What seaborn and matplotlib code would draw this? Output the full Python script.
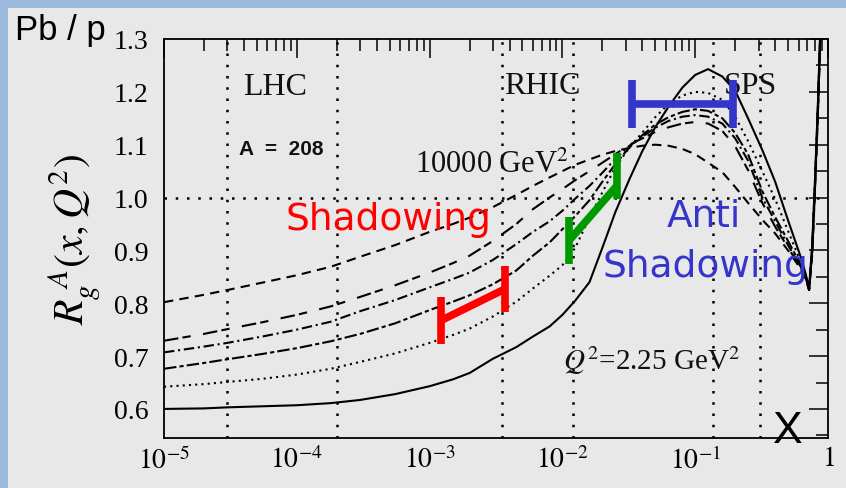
import numpy as np
import pandas as pd
import matplotlib
matplotlib.use("Agg")
import matplotlib.pyplot as plt
import seaborn as sns
from matplotlib.ticker import FixedLocator, LogLocator, FuncFormatter, NullFormatter
from matplotlib.patches import Rectangle

# ---------------------------------------------------------------------------
# Gluon nuclear modification R_g^A(x, Q^2) for Pb (A = 208)
# ---------------------------------------------------------------------------
x_vals = [1e-5, 2e-5, 3e-5, 5.5e-5, 1e-4, 1.8e-4, 3e-4, 5.5e-4, 1e-3, 1.5e-3,
          2e-3, 3e-3, 4.5e-3, 6e-3, 8e-3,
          0.01, 0.0125, 0.016, 0.02, 0.025, 0.032, 0.04, 0.05, 0.063, 0.08,
          0.1, 0.125, 0.16, 0.2, 0.25, 0.32, 0.4, 0.5, 0.63, 0.68,
          0.72, 0.76, 0.80, 0.84, 0.88]

r_q2_2p25 = [0.600, 0.601, 0.603, 0.605, 0.607, 0.611, 0.617, 0.628, 0.643, 0.656,
             0.668, 0.695, 0.717, 0.737, 0.756,
             0.778, 0.805, 0.840, 0.905, 0.972, 1.035, 1.088, 1.133, 1.172, 1.208,
             1.232, 1.243, 1.229, 1.202, 1.150, 1.090, 1.030, 0.957, 0.884, 0.855,
             0.827, 0.910, 1.040, 1.180, 1.340]
r_q2_b = [0.642, 0.647, 0.651, 0.657, 0.665, 0.676, 0.689, 0.705, 0.725, 0.740,
          0.752, 0.775, 0.803, 0.828, 0.852,
          0.872, 0.905, 0.962, 1.010, 1.057, 1.095, 1.123, 1.152, 1.177, 1.193,
          1.200, 1.198, 1.185, 1.153, 1.107, 1.050, 0.997, 0.937, 0.875, 0.852,
          0.826, 0.905, 1.035, 1.175, 1.335]
r_q2_c = [0.676, 0.687, 0.694, 0.704, 0.715, 0.728, 0.742, 0.762, 0.787, 0.803,
          0.815, 0.836, 0.862, 0.890, 0.915,
          0.940, 0.965, 0.995, 1.030, 1.063, 1.095, 1.118, 1.138, 1.152, 1.162,
          1.167, 1.164, 1.150, 1.122, 1.082, 1.012, 0.963, 0.918, 0.870, 0.850,
          0.826, 0.900, 1.030, 1.170, 1.330]
r_q2_d = [0.707, 0.718, 0.725, 0.737, 0.750, 0.765, 0.785, 0.806, 0.830, 0.846,
          0.858, 0.882, 0.912, 0.935, 0.955,
          0.975, 0.998, 1.022, 1.047, 1.073, 1.098, 1.115, 1.132, 1.145, 1.153,
          1.156, 1.153, 1.140, 1.112, 1.070, 1.000, 0.955, 0.910, 0.867, 0.848,
          0.825, 0.900, 1.030, 1.165, 1.330]
r_q2_e = [0.729, 0.742, 0.751, 0.764, 0.778, 0.794, 0.812, 0.834, 0.858, 0.876,
          0.890, 0.918, 0.950, 0.978, 1.000,
          1.016, 1.033, 1.050, 1.066, 1.082, 1.100, 1.112, 1.124, 1.133, 1.140,
          1.143, 1.140, 1.126, 1.097, 1.052, 0.990, 0.945, 0.905, 0.865, 0.847,
          0.825, 0.895, 1.025, 1.165, 1.325]
r_q2_10000 = [0.802, 0.816, 0.825, 0.839, 0.853, 0.869, 0.888, 0.910, 0.935, 0.950,
              0.962, 0.982, 1.005, 1.022, 1.038,
              1.050, 1.062, 1.072, 1.081, 1.088, 1.094, 1.098, 1.100, 1.098, 1.092,
              1.082, 1.066, 1.048, 1.020, 0.990, 0.958, 0.932, 0.900, 0.863, 0.845,
              0.825, 0.890, 1.020, 1.160, 1.320]

curves = [
    (r_q2_2p25, "-"),
    (r_q2_b, (0, (1, 2.0))),
    (r_q2_c, (0, (6, 1.5, 2, 1.5))),
    (r_q2_d, (0, (5, 1.8, 1, 1.8))),
    (r_q2_e, (0, (7, 2, 4, 6))),
    (r_q2_10000, (0, (4.5, 3))),
]

# experimental x ranges (boundaries of the kinematic regions)
lhc_range = [3e-5, 2e-4]
rhic_range = [3.5e-3, 1.2e-2]
sps_range = [0.135, 0.31]

# schematic data ranges drawn on top of the curves
red_x = [1.21e-3, 3.70e-3]
red_y = [0.767, 0.827]
red_half = 0.044
green_x = [0.01127, 0.02565]
green_link_y = [0.919, 1.022]
green_left_span = [0.874, 0.963]
green_right_span = [0.997, 1.084]
blue_x = [0.0336, 0.191]
blue_y = 1.177
blue_half = 0.045

y_ticks = [0.6, 0.7, 0.8, 0.9, 1.0, 1.1, 1.2, 1.3]

# ---------------------------------------------------------------------------
sns.set_theme(style="white")
plt.rcParams["font.family"] = ["Liberation Serif", "DejaVu Serif"]
plt.rcParams["mathtext.fontset"] = "stix"

W, H = 846, 489
fig = plt.figure(figsize=(W / 100, H / 100), dpi=100, facecolor="#9BB9DC")
fig.patches.append(Rectangle((8 / W, 0), 1, 1 - 9 / H, transform=fig.transFigure,
                             facecolor="#E8E8E8", edgecolor="none", zorder=-5))

ax = fig.add_axes([164 / W, 1 - 439 / H, 664 / W, 399 / H])
ax.set_facecolor("#E8E8E8")

for vals, ls in curves:
    sns.lineplot(x=x_vals, y=vals, ax=ax, color="black", lw=1.5,
                 linestyle=ls, estimator=None, sort=False, legend=False)

ax.set_xscale("log")
ax.set_xlim(1e-5, 1.0)
ax.set_ylim(0.545, 1.3)

# region boundaries and R = 1 reference
dot_kw = dict(color="black", lw=1.8, linestyle=(0, (1, 3.5)), zorder=1)
for xv in lhc_range + rhic_range + sps_range:
    ax.axvline(xv, **dot_kw)
ax.axhline(1.0, **dot_kw)

# ticks
ax.yaxis.set_major_locator(FixedLocator(y_ticks))
ax.yaxis.set_minor_locator(FixedLocator([0.55, 0.65, 0.75, 0.85, 0.95, 1.05, 1.15, 1.25]))
ax.xaxis.set_major_locator(LogLocator(base=10, numticks=10))
ax.xaxis.set_minor_locator(LogLocator(base=10, subs=np.arange(2, 10), numticks=20))
ax.xaxis.set_minor_formatter(NullFormatter())


def xfmt(v, pos):
    e = int(round(np.log10(v)))
    return "$1$" if e == 0 else r"$10^{%d}$" % e


ax.xaxis.set_major_formatter(FuncFormatter(xfmt))
ax.yaxis.set_major_formatter(FuncFormatter(lambda v, p: f"{v:.1f}"))
ax.tick_params(which="both", direction="in", top=True, right=True,
               color="black", width=1.1, labelsize=20, labelcolor="black")
ax.tick_params(which="major", length=14)
ax.tick_params(which="minor", length=8.5)
ax.tick_params(axis="y", pad=11)
ax.tick_params(axis="x", pad=6)
for s in ax.spines.values():
    s.set_color("black")
    s.set_linewidth(1.3)

ax.set_ylabel(r"$R_g^{\ A}(x,Q^2)$", fontsize=30, labelpad=8, color="black")

# region and curve labels
serif = dict(color="#111111", va="baseline")
ax.text(6.85e-5, 1.196, "LHC", ha="center", fontsize=23, **serif)
ax.text(7.0e-3, 1.197, "RHIC", ha="center", fontsize=23, **serif)
ax.text(0.263, 1.197, "SPS", ha="center", fontsize=23, **serif)
ax.text(7.6e-5, 1.082, "A  =  208", ha="center", va="baseline", fontsize=15,
        fontweight="bold", family="Liberation Sans", color="#111111")
ax.text(7.76e-4, 1.048, r"10000 GeV$^2$", ha="left", fontsize=22, **serif)
ax.text(0.0101, 0.676, r"$Q^2$=2.25 GeV$^2$", ha="left", fontsize=21, **serif)

# schematic ranges
red = "#FF0000"
green = "#009A00"
blue = "#3535CC"
bar_lw = 5.5
ax.plot(red_x, red_y, color=red, lw=bar_lw, solid_capstyle="butt", zorder=5)
for xv, yv in zip(red_x, red_y):
    ax.plot([xv, xv], [yv - red_half, yv + red_half], color=red, lw=bar_lw,
            solid_capstyle="butt", zorder=5)
ax.plot(green_x, green_link_y, color=green, lw=bar_lw, solid_capstyle="butt", zorder=5)
ax.plot([green_x[0]] * 2, green_left_span, color=green, lw=bar_lw,
        solid_capstyle="butt", zorder=5)
ax.plot([green_x[1]] * 2, green_right_span, color=green, lw=bar_lw,
        solid_capstyle="butt", zorder=5)
ax.plot(blue_x, [blue_y, blue_y], color=blue, lw=bar_lw, solid_capstyle="butt", zorder=5)
for xv in blue_x:
    ax.plot([xv, xv], [blue_y - blue_half, blue_y + blue_half], color=blue, lw=bar_lw,
            solid_capstyle="butt", zorder=5)

ax.text(8.15e-5, 0.9405, "Shadowing", ha="left", va="baseline", fontsize=27,
        color=red, family="DejaVu Sans", zorder=6)
ax.text(0.117, 0.946, "Anti", ha="center", va="baseline", fontsize=27,
        color=blue, family="DejaVu Sans", zorder=6)
ax.text(0.1195, 0.8516, "Shadowing", ha="center", va="baseline", fontsize=27,
        color=blue, family="DejaVu Sans", zorder=6)

fig.text(15 / W, 1 - 40 / H, "Pb / p", ha="left", va="baseline", fontsize=25,
         family="Liberation Sans", color="black")
fig.text(788 / W, 1 - 443 / H, "X", ha="center", va="baseline", fontsize=32,
         family="Liberation Sans", color="black")

fig.savefig("out.png", dpi=100, facecolor=fig.get_facecolor())
